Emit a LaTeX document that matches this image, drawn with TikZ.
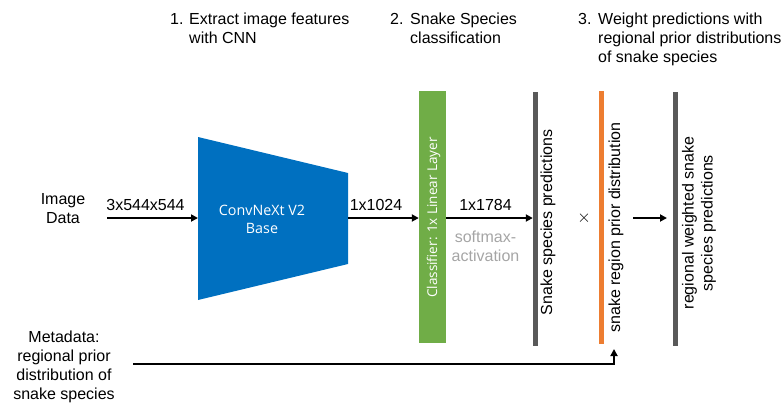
\documentclass[tikz,border=0pt]{standalone}
\usepackage{fontspec}
\setmainfont{Liberation Sans}
\newfontfamily\segoe{Open Sans}
\usetikzlibrary{arrows.meta}
\definecolor{cnnblue}{HTML}{0070C0}
\definecolor{clsgreen}{HTML}{70AD47}
\definecolor{priororange}{HTML}{ED7D31}
\definecolor{bargray}{HTML}{595959}
\definecolor{softgray}{HTML}{A5A5A5}
\begin{document}
\begin{tikzpicture}[x=1pt,y=-1pt]
\tikzset{txt/.style={inner sep=0pt, font=\fontsize{16}{19}\selectfont},
  fleche/.style={line width=2pt, -{Triangle[length=7pt,width=7pt]}},
  barre/.style={draw=none, inner sep=0pt, minimum width=5pt, minimum height=254pt}}
\useasboundingbox (0,0) rectangle (783,405);
\node[txt, anchor=north west] (n1) at (170,13) {1.};
\node[txt, anchor=north west, align=left] (h1) at (189,13) {Extract image features\\with CNN};
\node[txt, anchor=north west] (n2) at (390,13) {2.};
\node[txt, anchor=north west, align=left] (h2) at (410,13) {Snake Species\\classification};
\node[txt, anchor=north west] (n3) at (578,13) {3.};
\node[txt, anchor=north west, align=left] (h3) at (598,13) {Weight predictions with\\regional prior distributions\\of snake species};
\node[txt, anchor=north, align=center] (img) at (63,193) {Image\\Data};
\node[txt, anchor=north, align=center] (meta) at (64,331) {Metadata:\\regional prior\\distribution of\\snake species};
\fill[cnnblue] (198,137) -- (348,173) -- (348,264) -- (198,300) -- cycle;
\node[text=white, align=center, font=\segoe\fontsize{14.3}{18}\selectfont] (cnn) at (262,219) {ConvNeXt V2\\Base};
\coordinate (cnnIn) at (198,218);
\coordinate (cnnOut) at (348,218);
\coordinate (in0) at (107,218);
\node[barre, fill=clsgreen, minimum width=27pt, minimum height=252pt] (cls) at (432.5,217) {};
\node[rotate=90, text=white, font=\segoe\fontsize{13.5}{16}\selectfont] (clstxt) at (433.5,217.5) {Classifier: 1x Linear Layer};
\node[barre, fill=bargray] (pred) at (535.5,219) {};
\node[barre, fill=priororange, minimum height=253pt] (prior) at (601.5,217.5) {};
\node[barre, fill=bargray] (weighted) at (675.5,219) {};
\node[txt, rotate=90] (predtxt) at (548,222.5) {Snake species predictions};
\node[txt, rotate=90] (priortxt) at (616,227.5) {snake region prior distribution};
\node[txt, rotate=90, align=center] (weightedtxt) at (699,223) {regional weighted snake\\species predictions};
\node[font=\fontsize{17}{19}\selectfont] (mal) at (584,218) {$\times$};
\node[txt, anchor=base] (d1) at (145.5,210) {3x544x544};
\node[txt, anchor=base] (d2) at (376,210) {1x1024};
\node[txt, anchor=base] (d3) at (485.5,210) {1x1784};
\node[txt, anchor=north, align=center, text=softgray] (soft) at (485.5,231) {softmax-\\activation};
\coordinate (w0) at (633,218);
\coordinate (w1) at (667,218);
\coordinate (m0) at (133,364);
\coordinate (m1) at (614,349);
\draw[fleche] (in0) -- (cnnIn);
\draw[fleche] (cnnOut) -- (cnnOut -| cls.west);
\draw[fleche] (cls.east |- cnnOut) -- (pred.west |- cnnOut);
\draw[fleche] (w0) -- (w1);
\draw[fleche] (m0) -| (m1);
\end{tikzpicture}
\end{document}
